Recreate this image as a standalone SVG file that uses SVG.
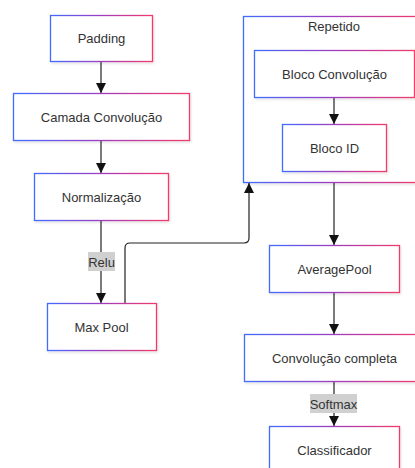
<svg xmlns="http://www.w3.org/2000/svg" width="415" height="468" viewBox="0 0 415 468">
<style>
.node rect{fill:#fff;stroke:url(#g);stroke-width:1.3;filter:url(#sh)}
.cl rect{fill:#fff;stroke:url(#g);stroke-width:1.3;filter:url(#sh)}
text{font-family:"Liberation Sans",Arial,sans-serif;font-size:13px;fill:#333;text-anchor:middle}
.edge{fill:none;stroke:#222;stroke-width:1.2}
.lbl{fill:#d0d0d0}
</style>
<defs>
<linearGradient id="g" x1="0" y1="0" x2="1" y2="0" gradientUnits="objectBoundingBox">
<stop offset="0" stop-color="#3f6cff"/>
<stop offset="0.5" stop-color="#a13cc0"/>
<stop offset="1" stop-color="#f23a6a"/>
</linearGradient>
<filter id="sh" x="-10%" y="-10%" width="120%" height="130%">
<feDropShadow dx="1" dy="1.5" stdDeviation="1.2" flood-color="#000" flood-opacity="0.12"/>
</filter>
<marker id="ah" viewBox="0 0 10 10" refX="10" refY="5" markerWidth="10" markerHeight="10" markerUnits="userSpaceOnUse" orient="auto">
<path d="M0,0 L10,5 L0,10 Z" fill="#111"/>
</marker>
</defs>
<g id="cluster-Repetido" class="cl">
<rect x="243.5" y="16.5" width="180" height="166"/>
<text x="334" y="31">Repetido</text>
</g>
<g id="edges">
<path class="edge" d="M101,61 L101,93" marker-end="url(#ah)"/>
<path class="edge" d="M101,140 L101,173" marker-end="url(#ah)"/>
<path class="edge" d="M101,220 L101,303" marker-end="url(#ah)"/>
<path class="edge" d="M125,303 L125,248 Q125,243 130,243 L244,243 Q249,243 249,238 L249,183" marker-end="url(#ah)"/>
<path class="edge" d="M334,97 L334,124" marker-end="url(#ah)"/>
<path class="edge" d="M334,183 L334,245" marker-end="url(#ah)"/>
<path class="edge" d="M334,292 L334,334" marker-end="url(#ah)"/>
<path class="edge" d="M334,381 L334,426" marker-end="url(#ah)"/>
<rect class="lbl" x="88" y="252" width="27" height="19"/>
<text x="101.5" y="266.5">Relu</text>
<rect class="lbl" x="310" y="394" width="47" height="19"/>
<text x="333.5" y="408.5">Softmax</text>
</g>
<g id="Padding" class="node"><rect x="50.5" y="15.5" width="102" height="46"/><text x="101.5" y="43">Padding</text></g>
<g id="CamadaConvolucao" class="node"><rect x="13.5" y="93.5" width="176" height="47"/><text x="101.5" y="121.5">Camada Convolução</text></g>
<g id="Normalizacao" class="node"><rect x="34.5" y="173.5" width="134" height="47"/><text x="101.5" y="201.5">Normalização</text></g>
<g id="MaxPool" class="node"><rect x="47.5" y="303.5" width="109" height="47"/><text x="101.5" y="331.5">Max Pool</text></g>
<g id="BlocoConvolucao" class="node"><rect x="254.5" y="50.5" width="160" height="47"/><text x="334.5" y="78.5">Bloco Convolução</text></g>
<g id="BlocoID" class="node"><rect x="282.5" y="124.5" width="104" height="47"/><text x="334.5" y="152.5">Bloco ID</text></g>
<g id="AveragePool" class="node"><rect x="269.5" y="245.5" width="130" height="47"/><text x="334.5" y="273.5">AveragePool</text></g>
<g id="ConvolucaoCompleta" class="node"><rect x="244.5" y="334.5" width="180" height="47"/><text x="334.5" y="362.5">Convolução completa</text></g>
<g id="Classificador" class="node"><rect x="269.5" y="426.5" width="130" height="47"/><text x="334.5" y="454.5">Classificador</text></g>
</svg>
